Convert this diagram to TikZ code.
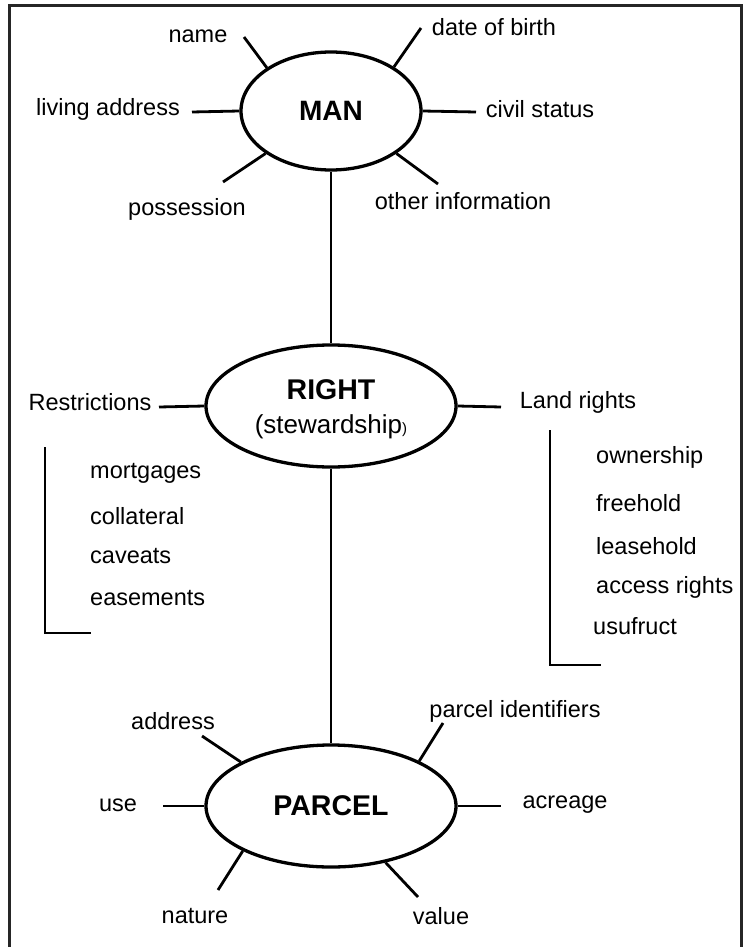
\documentclass[tikz,border=0pt]{standalone}
\usepackage{fontspec}
\setmainfont{Liberation Sans}
\usetikzlibrary{shapes.geometric}

\begin{document}
\begin{tikzpicture}[x=1pt, y=-1pt,
  lbl/.style={font=\fontsize{23.5}{28}\selectfont, inner sep=0pt},
  entity/.style={ellipse, draw, line width=3.3pt, inner sep=0pt, align=center},
  spoke/.style={line width=2.8pt},
  link/.style={line width=2.4pt},
  bracket/.style={line width=2.8pt},
  frame/.style={line width=3pt, draw=black!85},
]
\useasboundingbox (0,0) rectangle (743,947);

% outer frame (open at the bottom edge)
\draw[frame] (9.5,950) -- (9.5,6) -- (741,6) -- (741,950);

% ---- the three entities ----
\node[entity, minimum width=180pt, minimum height=118pt,
      font=\fontsize{28}{33}\selectfont\bfseries] (man) at (331,111) {MAN};
\node[entity, minimum width=250pt, minimum height=122pt,
      font=\fontsize{26}{34}\selectfont] (right) at (331,406)
      {\rule{0pt}{26.4pt}{\fontsize{28.5}{34}\selectfont\bfseries RIGHT}\\(stewardship{\fontsize{15}{15}\selectfont)}};
\node[entity, minimum width=250pt, minimum height=122pt,
      font=\fontsize{28.5}{33}\selectfont\bfseries] (parcel) at (331,806) {PARCEL};

\draw[link] (man.south) -- (right.north);
\draw[link] (right.south) -- (parcel.north);

% ---- MAN attributes ----
\coordinate (mName) at (244,37);
\coordinate (mBirth) at (421,28);
\coordinate (mAddr) at (192,112);
\coordinate (mCivil) at (476,112);
\coordinate (mPoss) at (223,182);
\coordinate (mOther) at (438,184);

\draw[spoke] (man.146) -- (mName);
\draw[spoke] (man.35) -- (mBirth);
\draw[spoke] (man.180) -- (mAddr);
\draw[spoke] (man.0) -- (mCivil);
\draw[spoke] (man.213) -- (mPoss);
\draw[spoke] (man.327) -- (mOther);

\node[lbl] (lName) at (198,36) {name};
\node[lbl] (lBirth) at (494,27) {date of birth};
\node[lbl] (lAddr) at (108,109) {living address};
\node[lbl] (lCivil) at (540,109) {civil status};
\node[lbl] (lPoss) at (187,209) {possession};
\node[lbl] (lOther) at (463,201) {other information};

% ---- RIGHT: restrictions and land rights ----
\coordinate (rRestr) at (159,407);
\coordinate (rLand) at (501,407);
\draw[spoke] (right.180) -- (rRestr);
\draw[spoke] (right.0) -- (rLand);

\node[lbl] (lRestr) at (90,402) {Restrictions};
\node[lbl] (lLand) at (578,402) {Land rights};

\draw[bracket] (45,447) -- (45,633) -- (91,633);
\node[lbl, anchor=west] (mort) at (90,473) {mortgages};
\node[lbl, anchor=west] (coll) at (90,516) {collateral};
\node[lbl, anchor=west] (cav) at (90,556) {caveats};
\node[lbl, anchor=west] (ease) at (90,598) {easements};

\draw[bracket] (550,430) -- (550,665) -- (601,665);
\node[lbl, anchor=west] (own) at (596,457) {ownership};
\node[lbl, anchor=west] (free) at (596,503) {freehold};
\node[lbl, anchor=west] (lease) at (596,546) {leasehold};
\node[lbl, anchor=west] (acc) at (596,587) {access rights};
\node[lbl, anchor=west] (usu) at (593,626) {usufruct};

% ---- PARCEL attributes ----
\coordinate (pAddr) at (202,736);
\coordinate (pIdent) at (443,723);
\coordinate (pUse) at (163,806);
\coordinate (pAcre) at (501,806);
\coordinate (pNat) at (218,890);
\coordinate (pVal) at (418,897);

\draw[spoke] (parcel.154) -- (pAddr);
\draw[spoke] (parcel.27) -- (pIdent);
\draw[spoke] (parcel.180) -- (pUse);
\draw[spoke] (parcel.0) -- (pAcre);
\draw[spoke] (parcel.207) -- (pNat);
\draw[spoke] (parcel.314) -- (pVal);

\node[lbl] (lpAddr) at (173,721) {address};
\node[lbl] (lpIdent) at (515,711) {parcel identifiers};
\node[lbl] (lpUse) at (118,805) {use};
\node[lbl] (lpAcre) at (565,805) {acreage};
\node[lbl] (lpNat) at (195,916) {nature};
\node[lbl] (lpVal) at (441,916) {value};
\end{tikzpicture}
\end{document}
